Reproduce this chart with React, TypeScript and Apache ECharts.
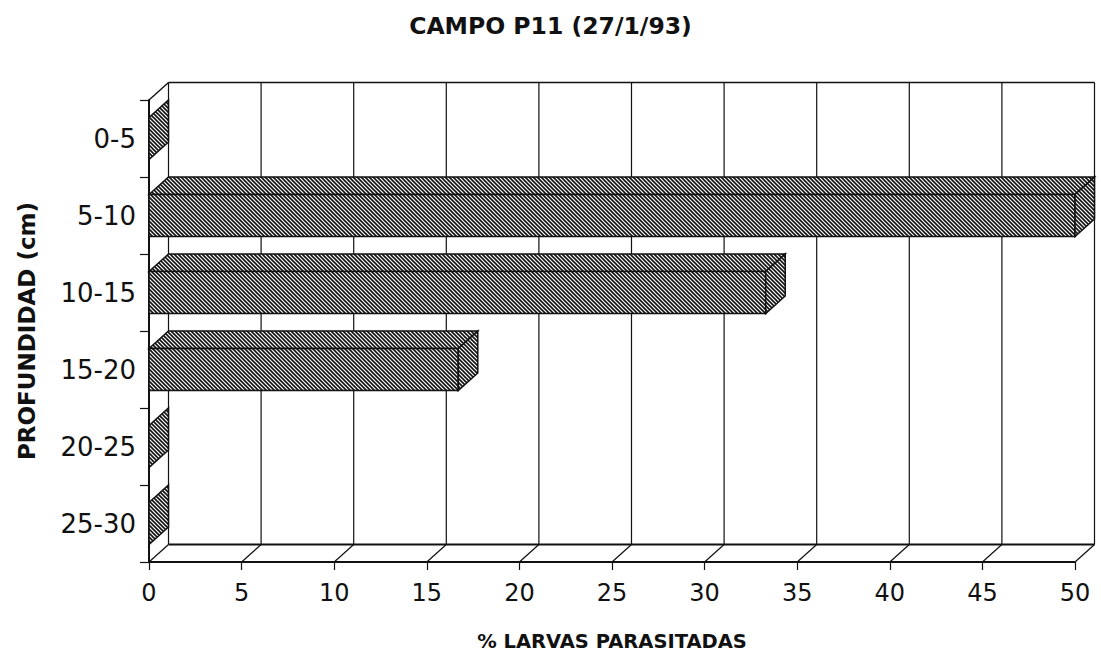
import React, { useEffect, useRef } from "react";
import * as echarts from "echarts";

// Depth classes (cm) and share of parasitised larvae (%)
const categories = ["0-5", "5-10", "10-15", "15-20", "20-25", "25-30"];
const larvae = [0, 50, 33.3, 16.7, 0, 0];
const xTicks = [0, 5, 10, 15, 20, 25, 30, 35, 40, 45, 50];

// Pseudo-3D depth offset of the back wall (px)
const DX = 19.5;
const DY = -17.5;
const INK = "#111";
const FONT = "DejaVu Sans";

function makeHatch(): HTMLCanvasElement {
  const s = 4;
  const c = document.createElement("canvas");
  c.width = s;
  c.height = s;
  const ctx = c.getContext("2d")!;
  ctx.fillStyle = "#fff";
  ctx.fillRect(0, 0, s, s);
  ctx.strokeStyle = "#111";
  ctx.lineWidth = 1.6;
  for (const o of [-s, 0, s]) {
    ctx.beginPath();
    ctx.moveTo(o - 1, -1);
    ctx.lineTo(o + s + 1, s + 1);
    ctx.stroke();
  }
  return c;
}

export default function App() {
  const ref = useRef<HTMLDivElement>(null);

  useEffect(() => {
    if (!ref.current) return;
    const chart = echarts.init(ref.current, undefined, { renderer: "svg" });
    const hatch = { image: makeHatch(), repeat: "repeat" } as any;
    const maxX = xTicks[xTicks.length - 1];

    const line = (x1: number, y1: number, x2: number, y2: number, w = 1.2) => ({
      type: "line",
      shape: { x1, y1, x2, y2 },
      style: { stroke: INK, lineWidth: w },
    });

    const option: any = {
      animation: false,
      backgroundColor: "#fff",
      title: {
        text: "CAMPO P11 (27/1/93)",
        left: "center",
        top: 9,
        textStyle: { fontFamily: FONT, fontWeight: "bold", fontSize: 23.5, color: INK },
      },
      grid: { left: 149, right: 26, top: 100, bottom: 95 },
      xAxis: {
        type: "value",
        min: 0,
        max: 50,
        interval: 5,
        name: "% LARVAS PARASITADAS",
        nameLocation: "middle",
        nameGap: 69,
        nameTextStyle: { fontFamily: FONT, fontWeight: "bold", fontSize: 19.5, color: INK },
        axisLine: { show: true, lineStyle: { color: INK, width: 2 } },
        axisTick: { show: true, length: 8, lineStyle: { color: INK, width: 1.2 } },
        axisLabel: { fontFamily: FONT, fontSize: 24, color: INK, margin: 19 },
        splitLine: { show: false },
      },
      yAxis: {
        type: "category",
        data: categories,
        inverse: true,
        name: "PROFUNDIDAD (cm)",
        nameLocation: "middle",
        nameRotate: 90,
        nameGap: 111,
        nameTextStyle: { fontFamily: FONT, fontWeight: "bold", fontSize: 23, color: INK },
        axisLine: { show: true, lineStyle: { color: INK, width: 2 } },
        axisTick: { show: true, length: 9, lineStyle: { color: INK, width: 1.2 } },
        axisLabel: { fontFamily: FONT, fontSize: 26, color: INK, margin: 13 },
        splitLine: { show: false },
      },
      series: [
        {
          // back wall, left wall and floor of the box
          type: "custom",
          z: 1,
          silent: true,
          data: [[0, 0]],
          renderItem: (params: any, api: any) => {
            const cs = params.coordSys;
            const top = cs.y;
            const bottom = cs.y + cs.height;
            const left = api.coord([0, 0])[0];
            const right = api.coord([maxX, 0])[0];
            const children: any[] = [];
            for (const t of xTicks) {
              const x = api.coord([t, 0])[0];
              children.push(line(x + DX, top + DY, x + DX, bottom + DY));
              children.push(line(x, bottom, x + DX, bottom + DY));
            }
            children.push(line(left + DX, top + DY, right + DX, top + DY, 1.4));
            children.push(line(left + DX, bottom + DY, right + DX, bottom + DY, 2));
            children.push(line(left, top, left + DX, top + DY, 1.4));
            return { type: "group", children };
          },
        },
        {
          // hatched 3-D bars
          type: "custom",
          z: 3,
          silent: true,
          data: larvae.map((v, i) => [v, i]),
          renderItem: (params: any, api: any) => {
            const v = api.value(0);
            const i = api.value(1);
            const [x1, yc] = api.coord([v, i]);
            const x0 = api.coord([0, i])[0];
            const h = api.size([0, 1])[1] * 0.545;
            const t = yc - h / 2;
            const b = yc + h / 2;
            const style = { fill: hatch, stroke: INK, lineWidth: 1.5 };
            const children: any[] = [];
            if (x1 - x0 > 0.5) {
              children.push({
                type: "polygon",
                shape: { points: [[x0, t], [x0 + DX, t + DY], [x1 + DX, t + DY], [x1, t]] },
                style,
              });
              children.push({
                type: "rect",
                shape: { x: x0, y: t, width: x1 - x0, height: h },
                style,
              });
            }
            children.push({
              type: "polygon",
              shape: { points: [[x1, t], [x1 + DX, t + DY], [x1 + DX, b + DY], [x1, b]] },
              style,
            });
            return { type: "group", children };
          },
        },
      ],
    };

    chart.setOption(option);
    return () => chart.dispose();
  }, []);

  return (
    <div
      ref={ref}
      style={{ position: "absolute", left: 0, top: 0, width: 1101, height: 657 }}
    />
  );
}
